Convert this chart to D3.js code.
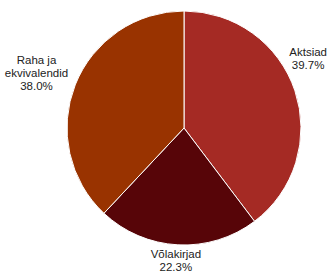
<!DOCTYPE html>
<html>
<head>
<meta charset="utf-8">
<script src="https://cdn.jsdelivr.net/npm/d3@7"></script>
<style>
  body { margin: 0; background: #fff; }
  svg { display: block; }
</style>
</head>
<body>
<svg id="chart"></svg>
<script>
var categories = ["Aktsiad", "Võlakirjad", "Raha ja ekvivalendid"];
var labelLines = [["Aktsiad"], ["Võlakirjad"], ["Raha ja", "ekvivalendid"]];
var shares = [39.7, 22.3, 38.0];
var colors = ["#A52A24", "#570508", "#993300"];

var width = 328, height = 275;
var cx = 184, cy = 128, radius = 117;
var fontSize = 11.5, lineH = 13;

var data = categories.map((c, i) => ({ name: c, lines: labelLines[i], value: shares[i] }));

var svg = d3.select("#chart")
    .attr("width", width)
    .attr("height", height);

var chart = svg.append("g")
    .attr("transform", `translate(${cx}, ${cy})`);

var pie = d3.pie()
    .value(d => d.value)
    .sort(null);

var arc = d3.arc()
    .innerRadius(0)
    .outerRadius(radius);

var color = d3.scaleOrdinal()
    .domain(categories)
    .range(colors);

var arcs = pie(data);

chart.selectAll("path")
    .data(arcs)
    .enter()
    .append("path")
    .attr("d", arc)
    .attr("fill", d => color(d.data.name))
    .attr("stroke", "white")
    .style("stroke-width", "1px");

// labels outside the pie, box pushed off the circle along the mid angle
var measure = svg.append("text").attr("font-family", "Arial, 'Liberation Sans', sans-serif")
    .attr("font-size", fontSize + "px");

arcs.forEach(d => {
    var lines = d.data.lines.concat([d3.format(".1f")(d.data.value) + "%"]);
    var w = d3.max(lines, l => { measure.text(l); return measure.node().getComputedTextLength(); });
    var h = lines.length * lineH;
    var a = (d.startAngle + d.endAngle) / 2;
    var s = Math.sin(a), c = -Math.cos(a);
    var r = radius + 10;
    var x = r * s + s * w / 2;
    var y = r * c + c * h / 2;
    // keep inside the window
    var maxX = width - cx - w / 2 - 1, minX = -cx + w / 2 + 1;
    if (x > maxX || x < minX) {
        x = Math.max(minX, Math.min(maxX, x));
        // slide vertically until the nearest corner clears the circle
        var nx = Math.abs(x) - w / 2;
        var rr = radius + 2;
        var dy = Math.sqrt(Math.max(0, rr * rr - nx * nx));
        y = c < 0 ? -dy - h / 2 : dy + h / 2;
    }
    var maxY = height - cy - h / 2;
    y = Math.min(maxY, y);
    d.label = { x: x, y: y, h: h, lines: lines };
});
measure.remove();

var labels = chart.selectAll(".label")
    .data(arcs)
    .enter()
    .append("text")
    .attr("class", "label")
    .attr("font-family", "Arial, 'Liberation Sans', sans-serif")
    .attr("font-size", fontSize + "px")
    .attr("fill", "#222")
    .style("text-anchor", "middle");

labels.each(function(d) {
    var t = d3.select(this);
    d.label.lines.forEach((l, i) => {
        t.append("tspan")
            .attr("x", d.label.x)
            .attr("y", d.label.y - d.label.h / 2 + lineH * (i + 1) - 4)
            .text(l);
    });
});
</script>
</body>
</html>
